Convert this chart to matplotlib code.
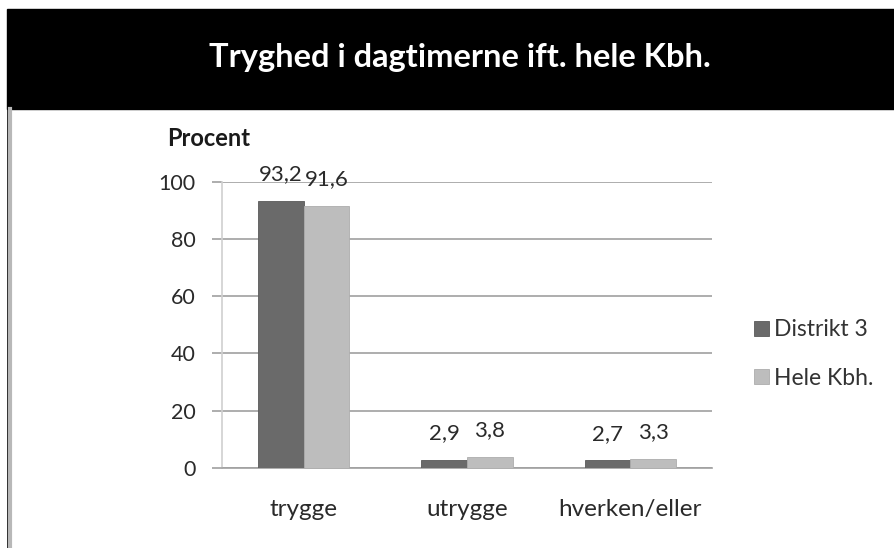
import numpy as np
import matplotlib
matplotlib.use("Agg")
import matplotlib.pyplot as plt
from matplotlib.patches import Rectangle
from matplotlib.lines import Line2D

plt.rcParams['font.family'] = ['Lato', 'DejaVu Sans']

categories = ["trygge", "utrygge", "hverken/eller"]
distrikt3 = [93.2, 2.9, 2.7]
hele_kbh = [91.6, 3.8, 3.3]
series_names = ["Distrikt 3", "Hele Kbh."]
yticks = [0, 20, 40, 60, 80, 100]

W, H = 894, 548
fig = plt.figure(figsize=(W / 100, H / 100), dpi=100)

# black title band + thin left rule
fig.patches.append(Rectangle((7 / W, 1 - 109 / H), 1 - 7 / W, 100 / H,
                             transform=fig.transFigure, color="black", zorder=0))
fig.lines.append(Line2D([7.5 / W, 7.5 / W], [0, 1 - 109 / H], transform=fig.transFigure,
                        color="black", lw=1.2))
fig.lines.append(Line2D([10 / W, 10 / W], [0, 1 - 109 / H], transform=fig.transFigure,
                        color="#b8b8b8", lw=3))
fig.text(460 / W, 1 - 58 / H, "Tryghed i dagtimerne ift. hele Kbh.", color="white",
         fontsize=23.5, fontweight="bold", ha="center", va="center")

ax = fig.add_axes([222 / W, 1 - 468 / H, 490 / W, 286.5 / H])
x = np.arange(len(categories))
bw = 0.28
b1 = ax.bar(x - bw / 2, distrikt3, bw, color="#6a6a6a", edgecolor="#5a5a5a", lw=0.6,
            label=series_names[0], zorder=3)
b2 = ax.bar(x + bw / 2, hele_kbh, bw, color="#bdbdbd", edgecolor="#adadad", lw=0.6,
            label=series_names[1], zorder=3)
for bars, vals in [(b1, distrikt3), (b2, hele_kbh)]:
    ax.bar_label(bars, labels=[f"{v:.1f}".replace(".", ",") for v in vals],
                 padding=12, fontsize=16, color="#2a2a2a")

ax.set_xlim(-0.5, len(categories) - 0.5)
ax.set_ylim(0, 100)
ax.set_yticks(yticks)
ax.set_xticks(x)
ax.set_xticklabels(categories)
ax.yaxis.grid(True, color="#a0a0a0", lw=1.2, zorder=0)
ax.tick_params(axis="y", length=7, color="#a0a0a0", width=1.2, labelsize=15.5,
               labelcolor="#2a2a2a", pad=12)
ax.tick_params(axis="x", length=0, labelsize=17.5, labelcolor="#2a2a2a", pad=22)
for s in ["top", "right"]:
    ax.spines[s].set_visible(False)
ax.spines["left"].set_color("#d0d0d0")
ax.spines["left"].set_linewidth(1.2)
ax.spines["bottom"].set_color("#a0a0a0")
ax.spines["bottom"].set_linewidth(1.2)

fig.text(167 / W, 1 - 146 / H, "Procent", fontsize=17, fontweight="bold",
         color="#1a1a1a", ha="left", va="baseline")

fig.legend(handles=[b1, b2], labels=series_names, loc="center left",
           bbox_to_anchor=(733 / W, 1 - 354 / H), frameon=False, fontsize=16.5,
           handlelength=0.65, handleheight=0.65, handletextpad=0.25, labelspacing=1.2,
           labelcolor="#333333")

fig.savefig("out.png", dpi=100, facecolor="white")
